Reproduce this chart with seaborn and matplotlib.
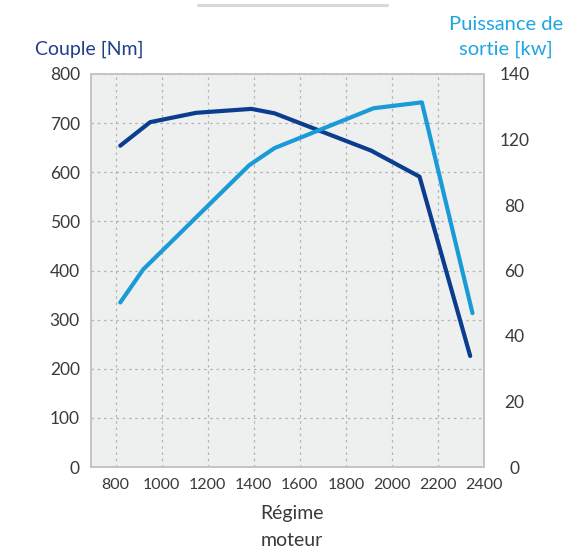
import matplotlib
matplotlib.use("Agg")
import matplotlib.pyplot as plt
from matplotlib.lines import Line2D
import seaborn as sns
import pandas as pd
import numpy as np

# ---- data ----
torque_rpm = [820, 950, 1150, 1390, 1490, 1910, 2120, 2340]
torque_nm = [654, 702, 721, 729, 720, 644, 591, 226]
power_rpm = [820, 920, 1380, 1490, 1920, 2130, 2350]
power_kw = [58.6, 70.4, 107.5, 113.6, 127.8, 129.9, 54.8]
x_ticks = [800, 1000, 1200, 1400, 1600, 1800, 2000, 2200, 2400]
left_ticks = [0, 100, 200, 300, 400, 500, 600, 700, 800]
right_tick_labels = ["0", "20", "40", "60", "80", "120", "140"]

sns.set_style("white")
plt.rcParams['font.family'] = ['Lato', 'DejaVu Sans']

W, H = 566, 548
fig = plt.figure(figsize=(W / 100, H / 100), dpi=100)
L, R, T, B = 91, 484, 74, 467
ax = fig.add_axes([L / W, 1 - B / H, (R - L) / W, (B - T) / H])
ax.set_facecolor('#eeefef')

dark = '#0b3d8f'
light = '#1a9bd7'
txt = '#3a3a3a'

df_t = pd.DataFrame({'rpm': torque_rpm, 'val': torque_nm})
df_p = pd.DataFrame({'rpm': power_rpm, 'val': power_kw})

sns.lineplot(data=df_t, x='rpm', y='val', ax=ax, color=dark, lw=3,
             sort=False, solid_capstyle='round', solid_joinstyle='round')
ax2 = ax.twinx()
sns.lineplot(data=df_p, x='rpm', y='val', ax=ax2, color=light, lw=3,
             sort=False, solid_capstyle='round', solid_joinstyle='round')

ax.set_xlim(693, 2400)
ax.set_ylim(0, 800)
ax.set_xticks(x_ticks)
ax.set_yticks(left_ticks)
ax.set_xlabel('')
ax.set_ylabel('')
ax2.set_ylabel('')
ax2.set_ylim(0, 140)
ax2.set_yticks(np.linspace(0, 140, len(right_tick_labels)))
ax2.set_yticklabels(right_tick_labels)

ax.grid(True, color='#b3b3b3', linestyle=(0, (2, 3)), lw=0.9)
ax.set_axisbelow(True)

for a in (ax, ax2):
    for s in a.spines.values():
        s.set_color('#c4c4c4')
        s.set_linewidth(1.2)

ax.tick_params(axis='x', length=0, pad=8, labelsize=11.5, labelcolor=txt)
ax.tick_params(axis='y', length=0, pad=8, labelsize=12.5, labelcolor=txt)
ax2.tick_params(axis='y', length=0, pad=22, labelsize=12.5, labelcolor=txt)
for lbl in ax2.get_yticklabels():
    lbl.set_horizontalalignment('center')

# titles
fig.text(35 / W, 1 - 49 / H, "Couple [Nm]", color='#1f3f8c', fontsize=14,
         ha='left', va='center')
fig.text(506 / W, 1 - 25 / H, "Puissance de", color='#1ea6e2', fontsize=14.5,
         ha='center', va='center')
fig.text(506 / W, 1 - 49 / H, "sortie [kw]", color='#1ea6e2', fontsize=14.5,
         ha='center', va='center')
fig.text(292 / W, 1 - 513 / H, "Régime", color=txt, fontsize=14,
         ha='center', va='center')
fig.text(292 / W, 1 - 540 / H, "moteur", color=txt, fontsize=14,
         ha='center', va='center')

fig.add_artist(Line2D([198 / W, 387 / W], [1 - 5.3 / H, 1 - 5.3 / H],
                      color='#d9d9d9', lw=2.3))

fig.savefig('out.png', dpi=100)
